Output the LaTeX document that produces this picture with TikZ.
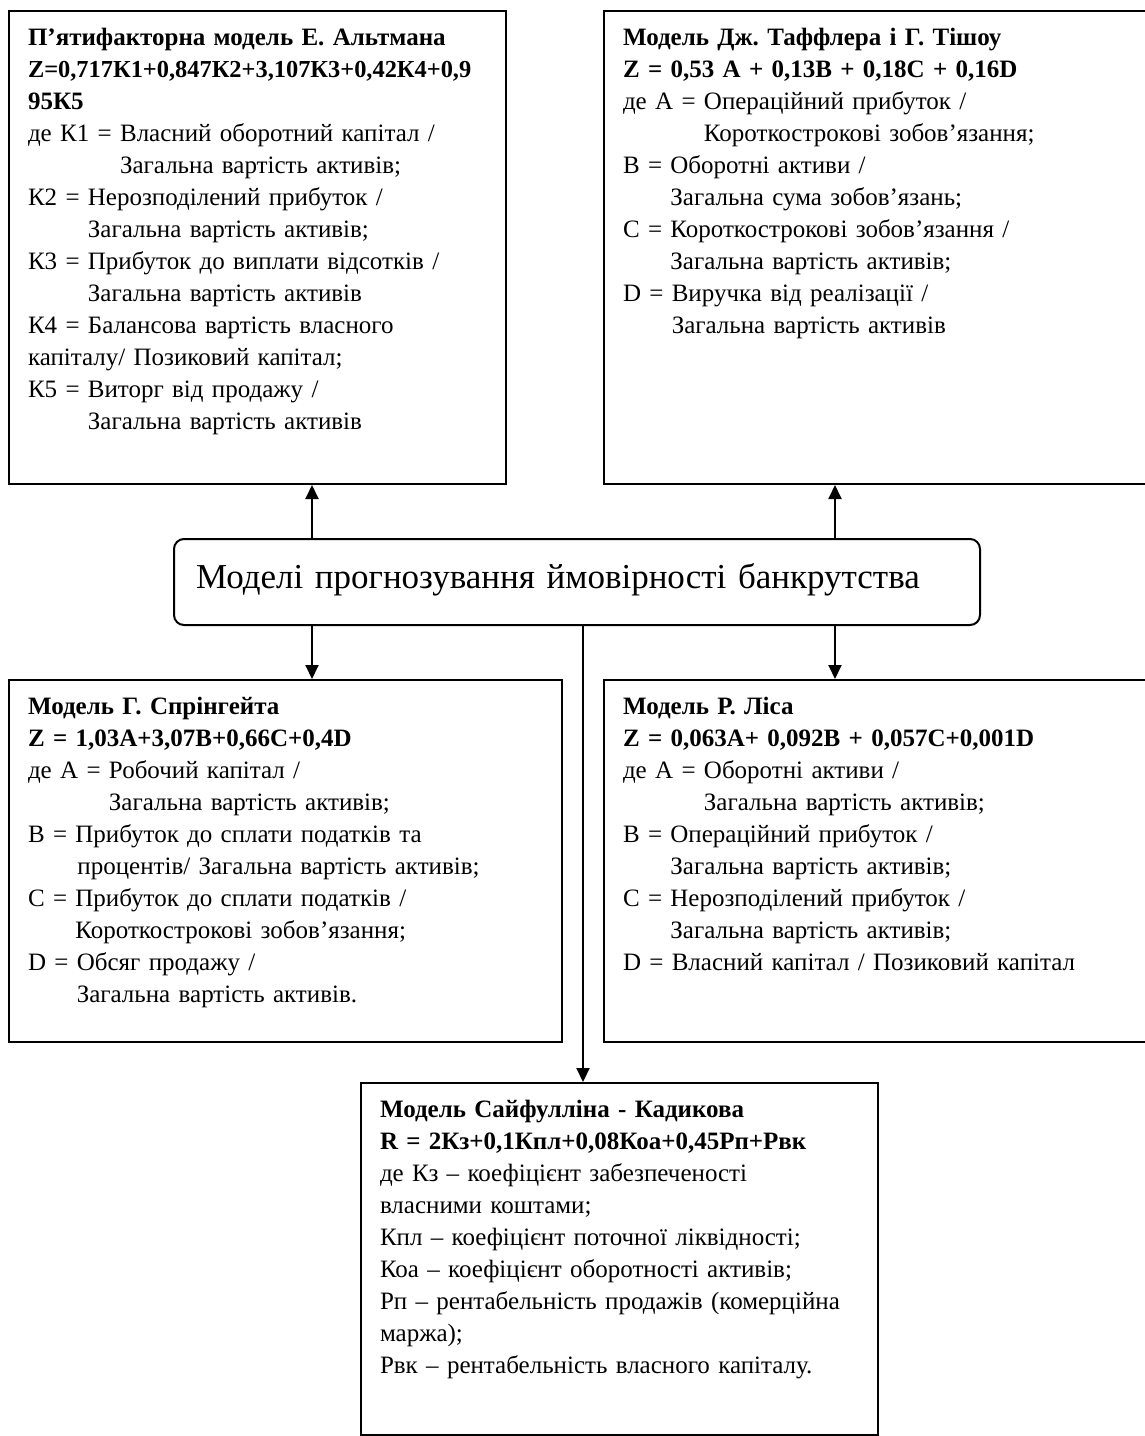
\documentclass[tikz,border=0pt]{standalone}
\usepackage{fontspec}
\setmainfont{Liberation Serif}
\usetikzlibrary{arrows.meta}
\frenchspacing

\begin{document}
\begin{tikzpicture}[
    x=0.5pt, y=-0.5pt,
    model/.style={draw, line width=1pt, anchor=north west, align=left, inner xsep=9.5pt, inner ysep=7pt, text height=10pt, font=\fontsize{12.5}{16}\selectfont},
    golovnyi/.style={draw, line width=1pt, rounded corners=5pt, anchor=north west, align=left, inner xsep=11pt, inner ysep=0pt, text width=381pt, text height=24.5pt, text depth=18.5pt, font=\fontsize{17.5}{21}\selectfont},
    strilka/.style={-{Triangle[length=7pt,width=6.5pt]}, line width=1pt}
  ]
    \useasboundingbox (0,0) rectangle (1145,1436);

    \node[model, text width=229.5pt, text depth=212.5pt] (altman) at (8,10) {\textbf{П’ятифакторна модель Е. Альтмана}\\
      {\fontsize{12.2}{16}\selectfont\textbf{Z=0,717К1+0,847К2+3,107К3+0,42К4+0,9}}\\
      \textbf{95К5}\\
      де К1 = Власний оборотний капітал /\\
      \hphantom{де К1 = }Загальна вартість активів;\\
      К2 = Нерозподілений прибуток /\\
      \hphantom{К2 = }Загальна вартість активів;\\
      К3 = Прибуток до виплати відсотків /\\
      \hphantom{К3 = }Загальна вартість активів\\
      К4 = Балансова вартість власного\\
      капіталу/ Позиковий капітал;\\
      К5 = Виторг від продажу /\\
      \hphantom{К5 = }Загальна вартість активів};
    \node[model, text width=252pt, text depth=212.5pt] (taffler) at (603,10) {\textbf{Модель Дж. Таффлера і Г. Тішоу}\\
      \textbf{Z = 0,53 A + 0,13B + 0,18C + 0,16D}\\
      де A = Операційний прибуток /\\
      \hphantom{де A = }Короткострокові зобов’язання;\\
      B = Оборотні активи /\\
      \hphantom{B = }Загальна сума зобов’язань;\\
      C = Короткострокові зобов’язання /\\
      \hphantom{C = }Загальна вартість активів;\\
      D = Виручка від реалізації /\\
      \hphantom{D = }Загальна вартість активів};

    \node[golovnyi] (modeli) at (173,538) {Моделі прогнозування ймовірності банкрутства};

    \node[model, text width=257.5pt, text depth=157pt] (springate) at (8,679) {\textbf{Модель Г. Спрінгейта}\\
      \textbf{Z = 1,03A+3,07B+0,66C+0,4D}\\
      де A = Робочий капітал /\\
      \hphantom{де A = }Загальна вартість активів;\\
      B = Прибуток до сплати податків та\\
      \hphantom{B = }\hspace*{1pt}процентів/ Загальна вартість активів;\\
      C = Прибуток до сплати податків /\\
      \hphantom{C = }Короткострокові зобов’язання;\\
      D = Обсяг продажу /\\
      \hphantom{D = }Загальна вартість активів.};
    \node[model, text width=252pt, text depth=157pt] (lis) at (603,679) {\textbf{Модель Р. Ліса}\\
      \textbf{Z = 0,063A+ 0,092B + 0,057C+0,001D}\\
      де A = Оборотні активи /\\
      \hphantom{де A = }Загальна вартість активів;\\
      B = Операційний прибуток /\\
      \hphantom{B = }Загальна вартість активів;\\
      C = Нерозподілений прибуток /\\
      \hphantom{C = }Загальна вартість активів;\\
      D = Власний капітал / Позиковий капітал};

    \node[model, text width=239.5pt, text depth=152pt] (saifullin) at (360,1082) {\textbf{Модель Сайфулліна - Кадикова}\\
      \textbf{R = 2Кз+0,1Кпл+0,08Коа+0,45Рп+Рвк}\\
      де Кз – коефіцієнт забезпеченості\\
      власними коштами;\\
      Кпл – коефіцієнт поточної ліквідності;\\
      Коа – коефіцієнт оборотності активів;\\
      Рп – рентабельність продажів (комерційна\\
      маржа);\\
      Рвк – рентабельність власного капіталу.};

    \coordinate (kolL) at (312,0);
    \coordinate (kolS) at (583,0);
    \coordinate (kolR) at (835,0);

    \draw[strilka] (modeli.north -| kolL) -- (altman.south -| kolL);
    \draw[strilka] (modeli.north -| kolR) -- (taffler.south -| kolR);
    \draw[strilka] (modeli.south -| kolL) -- (springate.north -| kolL);
    \draw[strilka] (modeli.south -| kolR) -- (lis.north -| kolR);
    \draw[strilka] (modeli.south -| kolS) -- (saifullin.north -| kolS);
  \end{tikzpicture}
\end{document}
